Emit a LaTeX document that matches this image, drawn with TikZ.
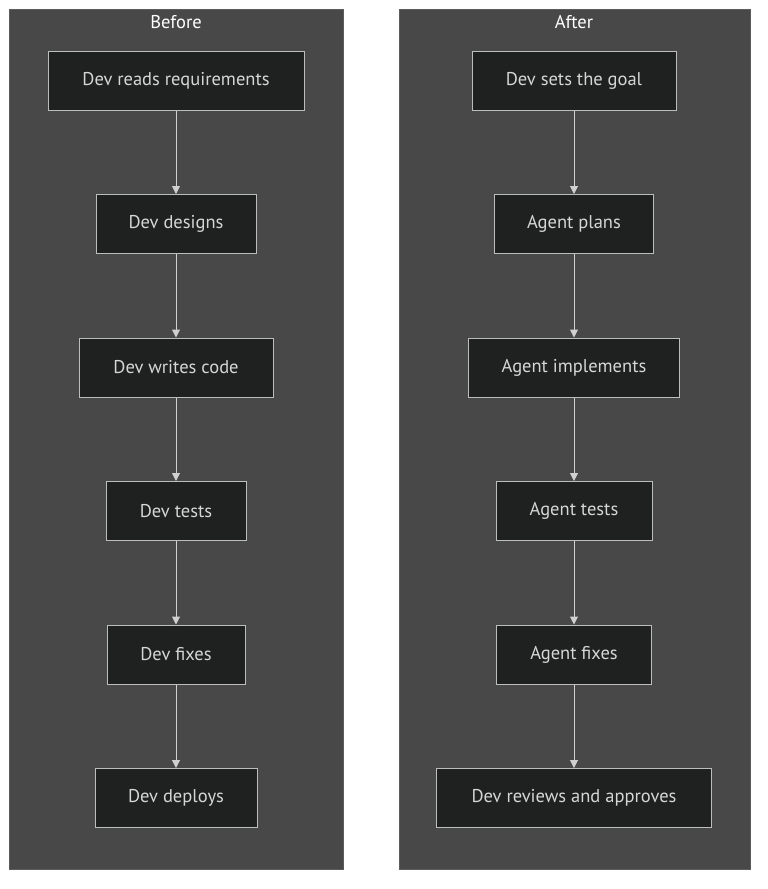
\documentclass[tikz,border=0pt]{standalone}
\usepackage{fontspec}
\setmainfont{PT Sans}
\usetikzlibrary{arrows.meta}
\definecolor{clusterbg}{HTML}{484848}
\definecolor{clusterbd}{HTML}{5C5C5C}
\definecolor{nodebg}{HTML}{1F2020}
\definecolor{nodebd}{HTML}{BDBDBD}
\definecolor{txt}{HTML}{D6D6D6}
\definecolor{edge}{HTML}{D0D0D0}
\tikzset{
  cluster/.style={fill=clusterbg, draw=clusterbd, line width=1pt},
  title/.style={text=white, font=\fontsize{18.5}{22}\selectfont, inner sep=0pt},
  box/.style={fill=nodebg, draw=nodebd, line width=1pt, text=txt, minimum height=59pt, inner sep=0pt, font=\fontsize{18.5}{22}\selectfont},
  flow/.style={draw=edge, line width=1pt, -{Triangle[length=8pt,width=8pt]}}
}
\begin{document}
\begin{tikzpicture}[x=1pt,y=-1pt]
\useasboundingbox (0,0) rectangle (768,889);
\fill[white] (0,0) rectangle (768,889);
\draw[cluster] (9,9) rectangle (343,869);
\draw[cluster] (399,9) rectangle (750,869);
\node[title] (tb) at (176,22) {Before};
\node[title] (ta) at (574,22) {After};
% Before
\node[box, minimum width=256pt] (b1) at (176,80.5) {Dev reads requirements};
\node[box, minimum width=160pt] (b2) at (176,224) {Dev designs};
\node[box, minimum width=194pt] (b3) at (176,367.5) {Dev writes code};
\node[box, minimum width=140pt] (b4) at (176,511) {Dev tests};
\node[box, minimum width=138pt] (b5) at (176,654.5) {Dev fixes};
\node[box, minimum width=162pt] (b6) at (176,798) {Dev deploys};
% After
\node[box, minimum width=204pt] (a1) at (574,80.5) {Dev sets the goal};
\node[box, minimum width=159pt] (a2) at (574,224) {Agent plans};
\node[box, minimum width=211pt] (a3) at (574,367.5) {Agent implements};
\node[box, minimum width=156pt] (a4) at (574,511) {Agent tests};
\node[box, minimum width=155pt] (a5) at (574,654.5) {Agent fixes};
\node[box, minimum width=275pt] (a6) at (574,798) {Dev reviews and approves};
\foreach \p/\q in {b1/b2,b2/b3,b3/b4,b4/b5,b5/b6,a1/a2,a2/a3,a3/a4,a4/a5,a5/a6}
  \draw[flow] (\p.south) -- (\q.north);
\end{tikzpicture}
\end{document}
